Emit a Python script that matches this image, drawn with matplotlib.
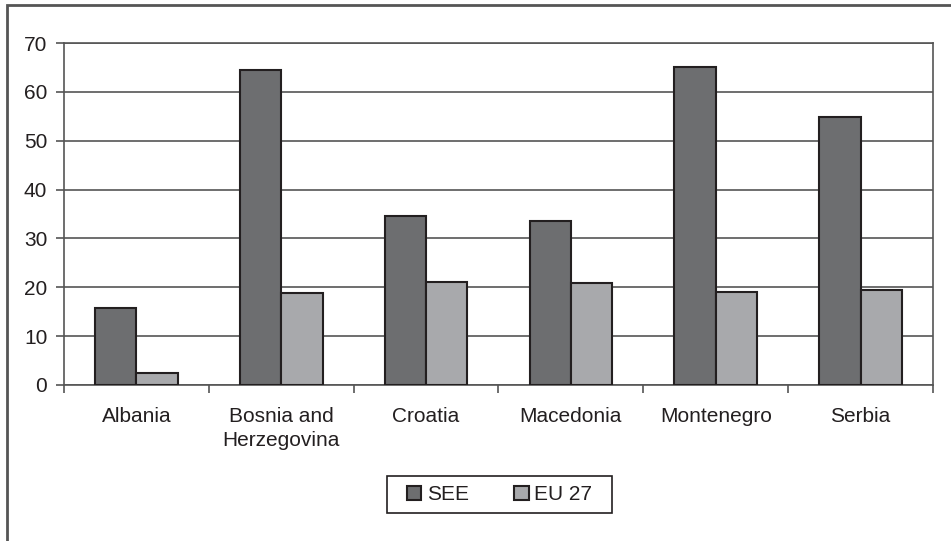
import matplotlib.pyplot as plt
import numpy as np
from matplotlib.patches import Rectangle

plt.rcParams['font.family'] = ['Liberation Sans', 'DejaVu Sans']

countries = ["Albania", "Bosnia and\nHerzegovina", "Croatia", "Macedonia", "Montenegro", "Serbia"]
see = [15.8, 64.5, 34.6, 33.6, 65.1, 54.9]
eu27 = [2.4, 18.8, 21.0, 20.9, 19.1, 19.4]
yticks = [0, 10, 20, 30, 40, 50, 60, 70]

dark = '#6d6e70'
light = '#a8a9ac'
edge = '#231f20'
grid = '#555555'
fs = 15

fig = plt.figure(figsize=(9.51, 5.41), dpi=100)
ax = fig.add_axes([64/951, 1-385/541, (933-64)/951, (385-43)/541])

x = np.arange(len(countries))
w = 1/3.5
ax.bar(x - w/2, see, w, color=dark, edgecolor=edge, linewidth=1.5, label='SEE', zorder=3)
ax.bar(x + w/2, eu27, w, color=light, edgecolor=edge, linewidth=1.5, label='EU 27', zorder=3)

ax.set_xlim(-0.5, len(countries) - 0.5)
ax.set_ylim(0, 70)
ax.set_yticks(yticks)
ax.yaxis.grid(True, color=grid, linewidth=1.2, zorder=0)
ax.set_axisbelow(True)

# category labels centred, ticks at the boundaries
ax.set_xticks(np.arange(len(countries) + 1) - 0.5)
ax.set_xticklabels([])
ax.set_xticks(x, minor=True)
ax.set_xticklabels(countries, minor=True, fontsize=fs, color='#231f20', linespacing=1.3)
ax.tick_params(axis='x', which='minor', length=0, pad=16)
ax.tick_params(axis='x', which='major', length=6, width=1.2, color=grid, direction='out')
ax.tick_params(axis='y', length=6, width=1.2, color=grid, labelsize=fs, labelcolor='#231f20', pad=6)

for s in ax.spines.values():
    s.set_color(grid)
    s.set_linewidth(1.2)

leg = fig.legend(loc='center', bbox_to_anchor=(499.5/951, 1-494.5/541), ncol=2,
                 fontsize=fs, frameon=False,
                 handlelength=0.68, handleheight=0.68, handletextpad=0.25,
                 columnspacing=2.2, borderpad=0.4)
for t in leg.get_texts():
    t.set_color('#231f20')
# legend box drawn separately so its padding matches
fig.patches.append(Rectangle((387/951, 1-513/541), 225/951, 37/541, transform=fig.transFigure,
                             fill=False, edgecolor=edge, linewidth=1.2))

# outer chart border (top and left visible)
fig.patches.append(Rectangle((7/951, -0.05), 1.1, 1.05 - 5/541, transform=fig.transFigure,
                             fill=False, edgecolor='#555555', linewidth=2))

fig.savefig('out.png', dpi=100, facecolor='white')
